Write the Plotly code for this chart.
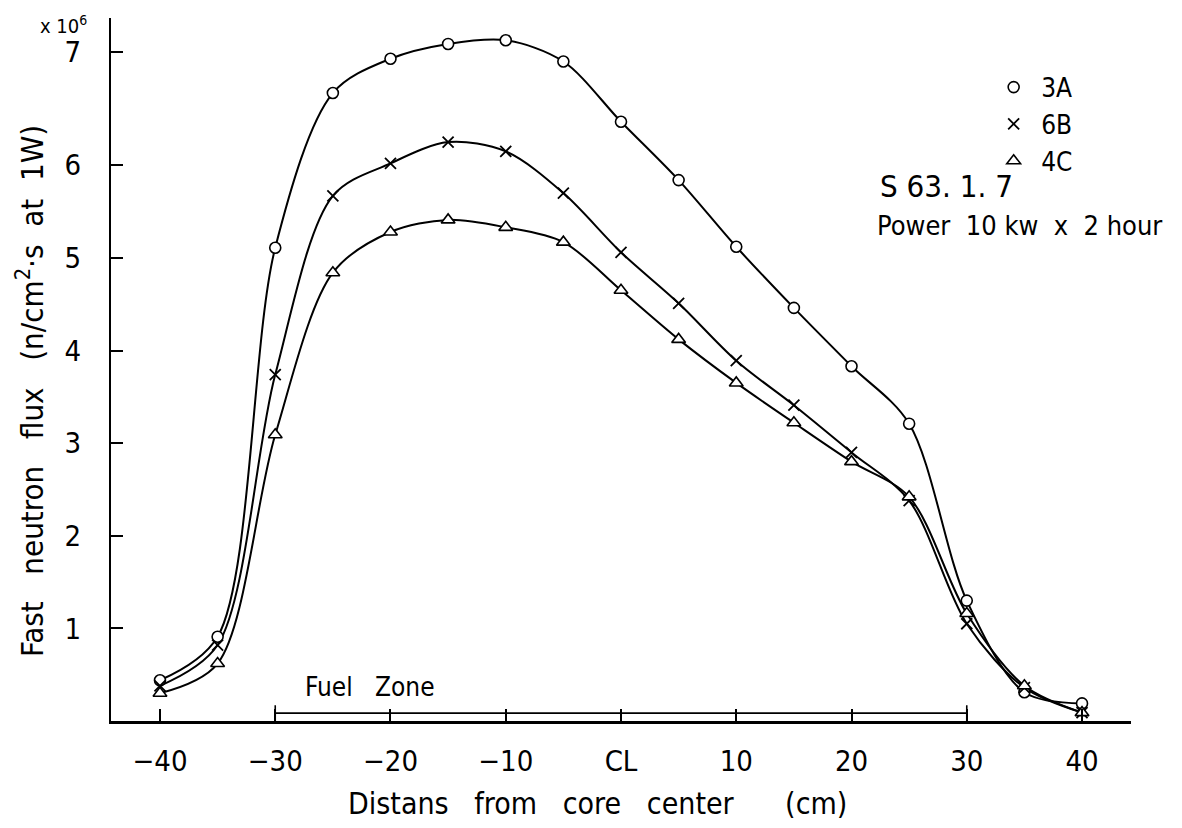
import plotly.graph_objects as go

# ---- data ----
x_pos = [-40, -35, -30, -25, -20, -15, -10, -5, 0, 5, 10, 15, 20, 25, 30, 35, 40]
flux_3A = [0.44, 0.91, 5.11, 6.78, 7.15, 7.31, 7.35, 7.12, 6.47, 5.84, 5.12, 4.46, 3.83, 3.21, 1.30, 0.31, 0.19]
flux_6B = [0.38, 0.82, 3.74, 5.67, 6.02, 6.25, 6.15, 5.70, 5.06, 4.51, 3.89, 3.41, 2.90, 2.38, 1.05, 0.36, 0.09]
flux_4C = [0.30, 0.62, 3.09, 4.84, 5.28, 5.41, 5.33, 5.17, 4.65, 4.12, 3.65, 3.22, 2.80, 2.42, 1.16, 0.38, 0.09]
series_names = ["3A", "6B", "4C"]

x_tickvals = [-40, -30, -20, -10, 0, 10, 20, 30, 40]
x_ticktext = ["\u221240", "\u221230", "\u221220", "\u221210", "CL", "10", "20", "30", "40"]
y_tickvals = [1, 2, 3, 4, 5, 6, 7.22]
y_ticktext = ["1", "2", "3", "4", "5", "6", "7"]
fuel_zone = [-30, 30]

FONT = "DejaVu Sans Condensed, Liberation Sans Narrow, DejaVu Sans, sans-serif"

fig = go.Figure()

all_series = [flux_3A, flux_6B, flux_4C]
marker_styles = [
    dict(symbol="circle", size=11, color="white", line=dict(color="black", width=1.6)),
    dict(symbol="x-thin", size=11, color="black", line=dict(color="black", width=1.8)),
    dict(symbol="triangle-up", size=12, color="white", line=dict(color="black", width=1.6)),
]

for ys in all_series:
    fig.add_trace(go.Scatter(
        x=x_pos, y=ys, mode="lines",
        line=dict(color="black", width=2, shape="spline", smoothing=0.9),
        showlegend=False, hoverinfo="skip"))

for name, ys, mk in zip(series_names, all_series, marker_styles):
    fig.add_trace(go.Scatter(
        x=x_pos, y=ys, mode="markers", name=name, marker=mk, showlegend=True))

# Fuel zone bracket
fz_y = 0.085
fig.add_shape(type="line", x0=fuel_zone[0], x1=fuel_zone[1], y0=fz_y, y1=fz_y,
              line=dict(color="black", width=1.6))
for xv in fuel_zone:
    fig.add_shape(type="line", x0=xv, x1=xv, y0=0, y1=0.17,
                  line=dict(color="black", width=1.6))
fig.add_annotation(x=-21.8, y=0.37, text="Fuel   Zone", showarrow=False,
                   font=dict(size=26, color="black", family=FONT))

# Info texts
fig.add_annotation(xref="paper", yref="paper", x=0.752, y=0.761, xanchor="left",
                   yanchor="middle", text="S 63. 1. 7", showarrow=False,
                   font=dict(size=31, color="black", family=FONT))
fig.add_annotation(xref="paper", yref="paper", x=0.749, y=0.705, xanchor="left",
                   yanchor="middle", text="Power  10 kw  x  2 hour", showarrow=False,
                   font=dict(size=27, color="black", family=FONT))

# Exponent label
fig.add_annotation(xref="paper", yref="paper", x=-0.022, y=0.99, xanchor="right",
                   yanchor="middle", text="x 10<sup>6</sup>", showarrow=False,
                   font=dict(size=20, color="black", family=FONT))

# Axis titles
fig.add_annotation(xref="paper", yref="paper", x=-0.08, y=0.47, textangle=-90,
                   xanchor="center", yanchor="middle",
                   text="Fast   neutron   flux   (n/cm<sup>2</sup>\u00b7s  at  1W)", showarrow=False,
                   font=dict(size=31, color="black", family=FONT))
fig.add_annotation(xref="paper", yref="paper", x=0.4765, y=-0.117,
                   xanchor="center", yanchor="middle",
                   text="Distans   from   core   center      (cm)", showarrow=False,
                   font=dict(size=30, color="black", family=FONT))

fig.update_layout(
    width=1166, height=812, autosize=False,
    margin=dict(l=103, r=43, t=10, b=99),
    paper_bgcolor="white", plot_bgcolor="white",
    font=dict(family=FONT, color="black", size=28),
    legend=dict(x=0.858, y=0.935, xanchor="left", yanchor="top",
                bgcolor="rgba(0,0,0,0)", font=dict(size=26, family=FONT),
                tracegroupgap=0, itemwidth=45),
    xaxis=dict(range=[-44.25, 44.25], tickvals=x_tickvals, ticktext=x_ticktext,
               showline=True, linecolor="black", linewidth=3, mirror=False,
               ticks="inside", ticklen=12, tickwidth=1.6, tickcolor="black",
               showgrid=False, zeroline=False, ticklabelstandoff=12,
               tickfont=dict(size=29, family=FONT)),
    yaxis=dict(range=[0, 7.59], tickvals=y_tickvals, ticktext=y_ticktext,
               showline=True, linecolor="black", linewidth=2, mirror=False,
               ticks="inside", ticklen=12, tickwidth=1.6, tickcolor="black",
               showgrid=False, zeroline=False, ticklabelstandoff=22,
               tickfont=dict(size=29, family=FONT)),
)

fig.write_html("out.html")
